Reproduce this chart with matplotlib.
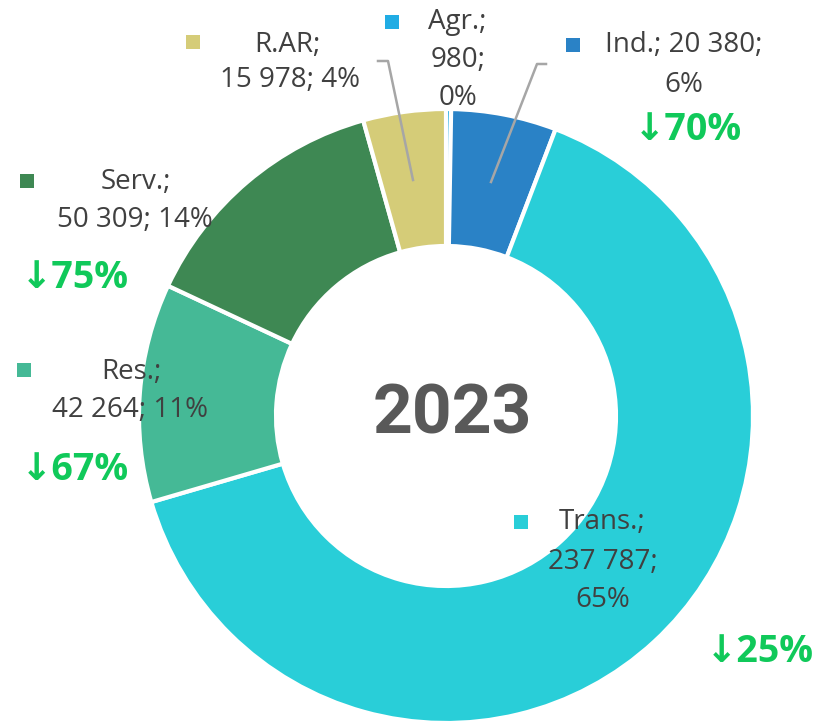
import matplotlib.pyplot as plt

W, H = 816, 723

# data
sectors = ["Agr.", "Ind.", "Trans.", "Res.", "Serv.", "R.AR"]
values = [980, 20380, 237787, 42264, 50309, 15978]
shares = ["0%", "6%", "65%", "11%", "14%", "4%"]
changes = [None, "↓70%", "↓25%", "↓67%", "↓75%", None]
year = "2023"

colors = ["#20ACE4", "#2A82C6", "#29CED8", "#45B996", "#3E8853", "#D5CC78"]
text_col = "#404040"
green = "#10C95A"
lead_col = "#A6A6A6"
fam = ["Open Sans", "DejaVu Sans"]


def fmt(v):
    return f"{v:,}".replace(",", " ")


fig = plt.figure(figsize=(W / 100, H / 100), dpi=100)
ax = fig.add_axes([0, 0, 1, 1])

cx, cy, r = 446, 416, 307
ax.pie(values, colors=colors, startangle=90, counterclock=False,
       radius=r, center=(cx, H - cy),
       wedgeprops=dict(width=137, edgecolor="white", linewidth=3))
ax.set_xlim(0, W)
ax.set_ylim(0, H)
ax.set_aspect("equal")
ax.axis("off")


def txt(x, y, s, **kw):
    kw.setdefault("fontsize", 20)
    kw.setdefault("color", text_col)
    kw.setdefault("family", fam)
    ax.text(x, H - y, s, ha="center", va="center", **kw)


def key(x, y, c):
    ax.scatter([x], [H - y], marker="s", s=110, color=c, linewidths=0)


# label layout: (key position, lines with centers)
layout = {
    "Agr.": ((392, 22), [("Agr.;", 457, 22), (f"{fmt(values[0])};", 458, 60),
                         (shares[0], 458, 98)]),
    "Ind.": ((573, 45), [(f"Ind.; {fmt(values[1])};", 684, 45),
                         (shares[1], 684, 85)]),
    "Trans.": ((521, 522), [("Trans.;", 602, 522), (f"{fmt(values[2])};", 603, 562),
                            (shares[2], 603, 600)]),
    "Res.": ((24, 370), [("Res.;", 131, 372), (f"{fmt(values[3])}; {shares[3]}", 130, 410)]),
    "Serv.": ((27, 181), [("Serv.;", 136, 182), (f"{fmt(values[4])}; {shares[4]}", 135, 220)]),
    "R.AR": ((193, 42), [("R.AR;", 287, 45), (f"{fmt(values[5])}; {shares[5]}", 290, 80)]),
}
for name, c in zip(sectors, colors):
    (kx, ky), lines = layout[name]
    key(kx, ky, c)
    for s, x, y in lines:
        txt(x, y, s)

change_pos = {"Ind.": (688, 130), "Trans.": (760, 652), "Res.": (75, 470), "Serv.": (75, 278)}
for name, ch in zip(sectors, changes):
    if ch:
        x, y = change_pos[name]
        txt(x, y, ch, fontsize=27, color=green, fontweight="bold")

# leader lines
ax.plot([378, 388, 413], [H - 61, H - 61, H - 180], color=lead_col, lw=1.8)
ax.plot([546, 537, 491], [H - 64, H - 64, H - 182], color=lead_col, lw=1.8)

txt(452, 415, year, fontsize=50, color="#595959", fontweight="bold",
    family=["Roboto", "DejaVu Sans"])

fig.savefig("out.png", dpi=100)
